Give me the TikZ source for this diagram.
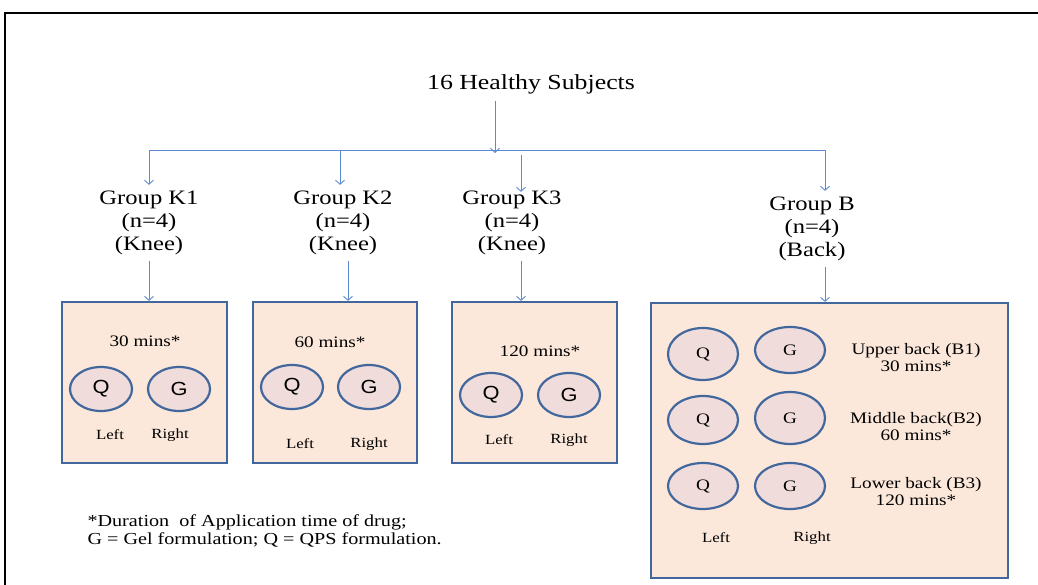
\documentclass[tikz,border=0pt]{standalone}
\usepackage{fontspec}
\setmainfont{Liberation Serif}[FakeStretch=1.2]
\newfontfamily\qgfont{Liberation Sans}[FakeStretch=1.15]
\usetikzlibrary{arrows.meta,shapes.geometric}
\definecolor{linkblue}{HTML}{5B8AD0}
\definecolor{boxline}{HTML}{41679C}
\definecolor{boxfill}{HTML}{FCE8DA}
\definecolor{dotfill}{HTML}{F1DCDC}
\tikzset{
  line/.style={draw=linkblue, line width=0.9pt},
  arr/.style={line, -{Straight Barb[length=4pt,width=9pt]}},
  group/.style={align=center, inner sep=6pt, font=\fontsize{20.5}{23}\selectfont},
  panel/.style={draw=boxline, fill=boxfill, line width=2.2pt},
  dot/.style={ellipse, draw=boxline, fill=dotfill, line width=2.2pt, inner sep=0pt},
  kdot/.style={dot, minimum width=62pt, minimum height=44pt, font=\qgfont\fontsize{19}{19}\selectfont},
  bdot/.style={dot, minimum width=70pt, minimum height=48pt, font=\fontsize{16}{16}\selectfont},
  small/.style={font=\fontsize{16}{17}\selectfont, align=center},
  side/.style={font=\fontsize{14}{14}\selectfont}
}
\begin{document}
\begin{tikzpicture}[x=1pt, y=-1pt]
  \useasboundingbox (0,0) rectangle (1038,585);
  \draw[line width=2pt] (5,590) -- (5,13) -- (1045,13);

  \node[font=\fontsize{21.5}{23}\selectfont, inner sep=7pt] (title) at (531,84) {16 Healthy Subjects};
  \coordinate (jt) at (495,153);
  \coordinate (bk1) at (149,150);
  \coordinate (bk2) at (340,150);
  \coordinate (bk3) at (521,155);
  \coordinate (bb) at (825,150);

  \node[group] (k1) at (149,223) {Group K1\\(n=4)\\(Knee)};
  \node[group] (k2) at (343,223) {Group K2\\(n=4)\\(Knee)};
  \node[group] (k3) at (512,223) {Group K3\\(n=4)\\(Knee)};
  \node[group] (gb) at (812,229) {Group B\\(n=4)\\(Back)};

  \node[panel, minimum width=165pt, minimum height=161pt] (k1box) at (144.5,382.5) {};
  \node[panel, minimum width=164pt, minimum height=161pt] (k2box) at (335,382.5) {};
  \node[panel, minimum width=165pt, minimum height=161pt] (k3box) at (534.5,382.5) {};
  \node[panel, minimum width=357pt, minimum height=275pt] (bbox) at (829.5,440.5) {};

  \draw[arr] (title.south -| jt) -- (jt);
  \draw[line] (bk1) -- (bb);
  \draw[arr] (bk1) -- (k1);
  \draw[arr] (bk2) -- (bk2 |- k2.north);
  \draw[arr] (bk3) -- ([yshift=-7pt]bk3 |- k3.north);
  \draw[arr] (bb) -- (bb |- gb.north);

  \draw[arr] (k1.south) -- (k1.south |- k1box.north);
  \draw[arr] ([xshift=5pt]k2.south) -- ([xshift=5pt]k2.south |- k2box.north);
  \draw[arr] ([xshift=9pt]k3.south) -- ([xshift=9pt]k3.south |- k3box.north);
  \draw[arr] ([xshift=13pt]gb.south) -- ([xshift=13pt]gb.south |- bbox.north);

  \node[small] (k1t) at (145,341) {30 mins*};
  \node[kdot] (k1q) at (101,389) {Q};
  \node[kdot] (k1g) at (179,389) {G};
  \node[side] (k1l) at (110,435) {Left};
  \node[side] (k1r) at (170,435) {Right};

  \node[small] (k2t) at (330,342) {60 mins*};
  \node[kdot] (k2q) at (292,387) {Q};
  \node[kdot] (k2g) at (369,387) {G};
  \node[side] (k2l) at (300,444) {Left};
  \node[side] (k2r) at (369,444) {Right};

  \node[small] (k3t) at (540,351) {120 mins*};
  \node[kdot] (k3q) at (491,395) {Q};
  \node[kdot] (k3g) at (569,395) {G};
  \node[side] (k3l) at (499,440) {Left};
  \node[side] (k3r) at (569,440) {Right};

  \node[bdot, minimum height=52pt] (b1q) at (703,354) {Q};
  \node[bdot, minimum height=46pt] (b1g) at (790,350) {G};
  \node[bdot] (b2q) at (703,420) {Q};
  \node[bdot, minimum height=52pt] (b2g) at (790,418) {G};
  \node[bdot, minimum height=46pt] (b3q) at (703,486) {Q};
  \node[bdot, minimum height=46pt] (b3g) at (790,486) {G};
  \node[small] (b1t) at (916,358) {Upper back (B1)\\30 mins*};
  \node[small] (b2t) at (916,427) {Middle back(B2)\\60 mins*};
  \node[small] (b3t) at (916,492) {Lower back (B3)\\120 mins*};
  \node[side] (bl) at (716,538) {Left};
  \node[side] (br) at (812,538) {Right};

  \node[anchor=west, align=left, font=\fontsize{16.8}{18}\selectfont] (note) at (84,531)
    {*Duration\ \ of Application time of drug;\\G = Gel formulation; Q = QPS formulation.};
\end{tikzpicture}
\end{document}
